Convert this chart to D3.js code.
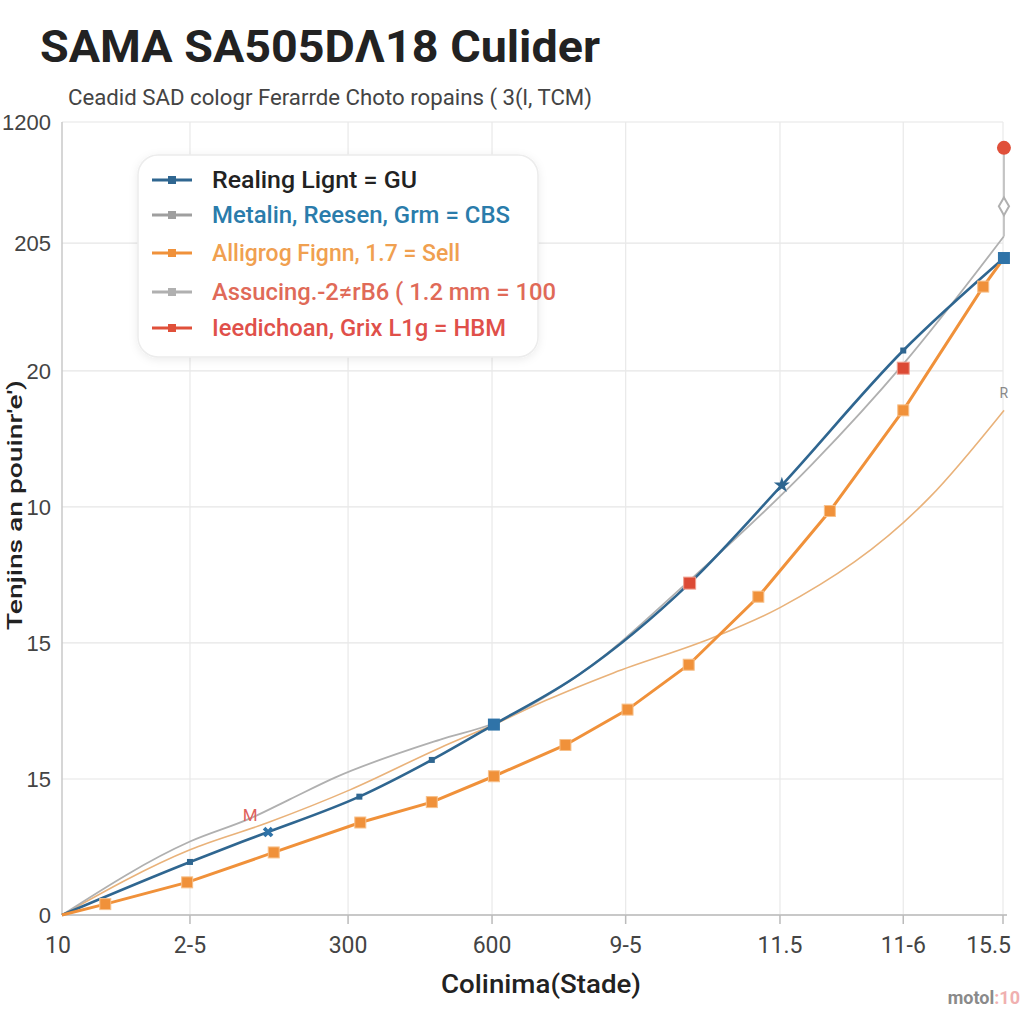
<!DOCTYPE html>
<html><head><meta charset="utf-8">
<script src="https://cdn.jsdelivr.net/npm/d3@7"></script>
<style>html,body{margin:0;padding:0;background:#fff;}</style>
</head><body>
<svg id="c" width="1024" height="1024"></svg>
<script>
// ---- data ----
const titleText = "SAMA SA505D\u039B18 Culider";
const subtitleText = "Ceadid SAD cologr Ferarrde Choto ropains ( 3(l, TCM)";
const xAxisTitle = "Colinima(Stade)";
const yAxisTitle = "Tenjins an pouinr'e')";
const xTickLabels = ["10", "2-5", "300", "600", "9-5", "11.5", "11-6", "15.5"];
const xTickPos = [0, 13.6, 30.4, 45.7, 59.9, 76.3, 89.4, 100];
const yTickLabels = ["0", "15", "15", "10", "20", "205", "1200"];
const yTickPos = [0, 1, 2, 3, 4, 4.94, 5.83];
const legendLabels = [
  "Realing Lignt = GU",
  "Metalin, Reesen, Grm = CBS",
  "Alligrog Fignn, 1.7 = Sell",
  "Assucing.-2\u2260rB6 ( 1.2 mm  = 100",
  "Ieedichoan, Grix L1g = HBM"
];
const blueX = [0, 13.6, 19.2, 21.9, 31.6, 39.3, 45.9, 55.0, 66.7, 76.5, 89.4, 100.1];
const blueY = [0, 0.39, 0.54, 0.61, 0.87, 1.14, 1.40, 1.77, 2.44, 3.16, 4.15, 4.83];
const grayX = [0, 13.6, 20.0, 24.2, 29.0, 40.2, 45.9, 55.0, 66.7, 79.8, 89.4, 100.1];
const grayY = [0, 0.54, 0.71, 0.85, 1.01, 1.29, 1.41, 1.77, 2.46, 3.32, 4.05, 4.99];
const orangeX = [0, 4.6, 13.3, 22.5, 31.7, 39.3, 45.9, 53.5, 60.1, 66.6, 74.0, 81.6, 89.4, 97.9, 100.1];
const orangeY = [0, 0.08, 0.24, 0.46, 0.68, 0.83, 1.02, 1.25, 1.51, 1.84, 2.34, 2.97, 3.71, 4.62, 4.83];
const tanX = [0, 13.6, 21.9, 30.6, 40.2, 45.9, 51.5, 58.6, 69.2, 76.3, 92.2, 100.1];
const tanY = [0, 0.48, 0.68, 0.92, 1.23, 1.40, 1.58, 1.78, 2.04, 2.26, 3.07, 3.71];
const redX = [20.0, 66.7, 89.4, 100.1];
const redY = [0.74, 2.44, 4.02, 5.64];
const diamondX = [100.1];
const diamondY = [5.21];

// ---- layout ----
const svg = d3.select("#c");
const L = 62, R = 1003, T = 122, B = 915;
const x = d3.scaleLinear().domain([0, 100]).range([L, R]);
const y = d3.scaleLinear().domain([0, 5.83]).range([B, T]);
const font = "Roboto, 'Liberation Sans', sans-serif";

const defs = svg.append("defs");
const f = defs.append("filter").attr("id", "sh").attr("x", "-10%").attr("y", "-10%").attr("width", "120%").attr("height", "130%");
f.append("feDropShadow").attr("dx", 0).attr("dy", 2).attr("stdDeviation", 4).attr("flood-color", "#000").attr("flood-opacity", 0.08);

// title
svg.append("text").attr("x", 40).attr("y", 62).text(titleText)
  .attr("font-family", font).attr("font-weight", "bold")
  .attr("font-size", 44).attr("fill", "#222")
  .attr("textLength", 560).attr("lengthAdjust", "spacingAndGlyphs");
svg.append("text").attr("x", 68).attr("y", 105).text(subtitleText)
  .attr("font-family", font).attr("font-size", 22).attr("fill", "#444")
  .attr("textLength", 524).attr("lengthAdjust", "spacingAndGlyphs");

// grid
const g = svg.append("g");
g.selectAll(".hg").data(yTickPos).join("line")
  .attr("x1", L).attr("x2", R).attr("y1", d => y(d)).attr("y2", d => y(d))
  .attr("stroke", "#e6e6e6").attr("stroke-width", 1.2);
g.selectAll(".vg").data(xTickPos.slice(1)).join("line")
  .attr("x1", d => x(d)).attr("x2", d => x(d)).attr("y1", T).attr("y2", B)
  .attr("stroke", "#e9e9e9").attr("stroke-width", 1.2);
g.append("line").attr("x1", L).attr("x2", L).attr("y1", T).attr("y2", B).attr("stroke", "#c8c8c8").attr("stroke-width", 1.5);
g.append("line").attr("x1", L).attr("x2", R + 4).attr("y1", B).attr("y2", B).attr("stroke", "#c8c8c8").attr("stroke-width", 2);
g.selectAll(".xt").data(xTickPos.slice(1)).join("line")
  .attr("x1", d => x(d)).attr("x2", d => x(d)).attr("y1", B).attr("y2", B + 9)
  .attr("stroke", "#bbb").attr("stroke-width", 1.5);

// tick labels
svg.selectAll(".xl").data(xTickPos).join("text")
  .attr("x", (d, i) => i === xTickPos.length - 1 ? x(d) + 8 : x(d) - (i === 0 ? 4 : 0))
  .attr("y", 953)
  .attr("text-anchor", (d, i) => i === xTickPos.length - 1 ? "end" : "middle")
  .text((d, i) => xTickLabels[i])
  .attr("font-family", font).attr("font-size", 23).attr("fill", "#444");
svg.selectAll(".yl").data(yTickPos).join("text")
  .attr("x", 51).attr("y", d => y(d) + 8).attr("text-anchor", "end")
  .text((d, i) => yTickLabels[i])
  .attr("font-family", "'Liberation Sans', sans-serif").attr("font-size", 22).attr("fill", "#444");

// axis titles
svg.append("text").attr("x", 541).attr("y", 993).attr("text-anchor", "middle").text(xAxisTitle)
  .attr("font-family", font).attr("font-weight", 500).attr("font-size", 26).attr("fill", "#222")
  .attr("textLength", 200).attr("lengthAdjust", "spacingAndGlyphs");
svg.append("text").attr("transform", "translate(22,505) rotate(-90)").attr("text-anchor", "middle").text(yAxisTitle)
  .attr("font-family", font).attr("font-weight", 500).attr("font-size", 20).attr("fill", "#222")
  .attr("textLength", 250).attr("lengthAdjust", "spacingAndGlyphs");

// watermark
const wm = svg.append("text").attr("x", 1020).attr("y", 1004).attr("text-anchor", "end")
  .attr("font-family", font).attr("font-size", 18).attr("font-weight", "bold");
wm.append("tspan").text("motol").attr("fill", "#8a8a8a");
wm.append("tspan").text(":10").attr("fill", "#f0b0b0");

// series helpers
const zip = (xs, ys) => xs.map((v, i) => [v, ys[i]]);
const smooth = d3.line().x(d => x(d[0])).y(d => y(d[1])).curve(d3.curveMonotoneX);
const straight = d3.line().x(d => x(d[0])).y(d => y(d[1]));

const tan = zip(tanX, tanY), gray = zip(grayX, grayY), blue = zip(blueX, blueY), orange = zip(orangeX, orangeY);

svg.append("path").attr("d", smooth(tan)).attr("fill", "none").attr("stroke", "#e9b27a").attr("stroke-width", 1.6);
svg.append("path").attr("d", smooth(gray)).attr("fill", "none").attr("stroke", "#b0b0b0").attr("stroke-width", 1.8);
svg.append("path").attr("d", smooth(blue)).attr("fill", "none").attr("stroke", "#2f6690").attr("stroke-width", 2.6);
svg.append("path").attr("d", straight(orange)).attr("fill", "none").attr("stroke", "#f0913a").attr("stroke-width", 3);

// orange markers
svg.selectAll(".om").data(orange.slice(1, -1)).join("rect")
  .attr("x", d => x(d[0]) - 5.5).attr("y", d => y(d[1]) - 5.5).attr("width", 11).attr("height", 11)
  .attr("fill", "#f0913a").attr("stroke", "#f7c08a").attr("stroke-width", 1);

// blue markers
const blueBig = [6, 11];
const blueSmall = [1, 4, 5, 10];
svg.selectAll(".bs").data(blueSmall.map(i => blue[i])).join("rect")
  .attr("x", d => x(d[0]) - 3).attr("y", d => y(d[1]) - 3).attr("width", 6).attr("height", 6).attr("fill", "#2f6690");
svg.selectAll(".bb").data(blueBig.map(i => blue[i])).join("rect")
  .attr("x", d => x(d[0]) - 6).attr("y", d => y(d[1]) - 6).attr("width", 12).attr("height", 12).attr("fill", "#2f73a8");
svg.append("path").attr("d", d3.symbol(d3.symbolCross, 70)()).attr("transform", `translate(${x(blue[3][0])},${y(blue[3][1])}) rotate(45)`).attr("fill", "#2f73a8");
svg.append("path").attr("d", d3.symbol(d3.symbolStar, 80)()).attr("transform", `translate(${x(blue[9][0])},${y(blue[9][1])})`).attr("fill", "#2f6690");

// tan end label
svg.append("text").attr("x", x(tanX[tanX.length - 1])).attr("y", y(tanY[tanY.length - 1]) - 12).attr("text-anchor", "middle")
  .text("R").attr("font-family", font).attr("font-size", 14).attr("fill", "#888");

// red series: connector, markers
const red = zip(redX, redY);
svg.append("line").attr("x1", x(redX[3])).attr("x2", x(redX[3])).attr("y1", y(redY[3])).attr("y2", y(grayY[grayY.length - 1]))
  .attr("stroke", "#c4c4c4").attr("stroke-width", 2);
svg.append("path").attr("d", d3.symbol(d3.symbolDiamond, 90)()).attr("transform", `translate(${x(diamondX[0])},${y(diamondY[0])})`)
  .attr("fill", "#fff").attr("stroke", "#b0b0b0").attr("stroke-width", 2);
svg.append("text").attr("x", x(red[0][0])).attr("y", y(red[0][1]) + 7).attr("text-anchor", "middle")
  .text("M").attr("font-family", font).attr("font-size", 17).attr("fill", "#e0605a");
svg.selectAll(".rm").data(red.slice(1, 3)).join("rect")
  .attr("x", d => x(d[0]) - 6).attr("y", d => y(d[1]) - 6).attr("width", 12).attr("height", 12)
  .attr("fill", "#dc4a35").attr("stroke", "#f0a090").attr("stroke-width", 1);
svg.append("circle").attr("cx", x(red[3][0])).attr("cy", y(red[3][1])).attr("r", 7).attr("fill", "#e0503a");

// legend
const lg = svg.append("g");
lg.append("rect").attr("x", 138).attr("y", 155).attr("width", 400).attr("height", 202).attr("rx", 20)
  .attr("fill", "#fff").attr("stroke", "#ececec").attr("stroke-width", 1.5).attr("filter", "url(#sh)");
const legIcon = ["#2f6690", "#9f9f9f", "#f0913a", "#b0b0b0", "#e0503a"];
const legText = ["#222", "#2a7cab", "#f0a050", "#e06a58", "#e0504a"];
const legY = [180, 215, 253, 292, 328];
const legW = [205, 298, 248, 344, 294];
legendLabels.forEach((t, i) => {
  lg.append("line").attr("x1", 152).attr("x2", 192).attr("y1", legY[i]).attr("y2", legY[i]).attr("stroke", legIcon[i]).attr("stroke-width", 3);
  lg.append("rect").attr("x", 168).attr("y", legY[i] - 4).attr("width", 8).attr("height", 8).attr("fill", legIcon[i]);
  lg.append("text").attr("x", 212).attr("y", legY[i] + 8).text(t)
    .attr("font-family", font).attr("font-weight", 500).attr("font-size", 23).attr("fill", legText[i])
    .attr("textLength", legW[i]).attr("lengthAdjust", "spacingAndGlyphs");
});
</script>
</body></html>
